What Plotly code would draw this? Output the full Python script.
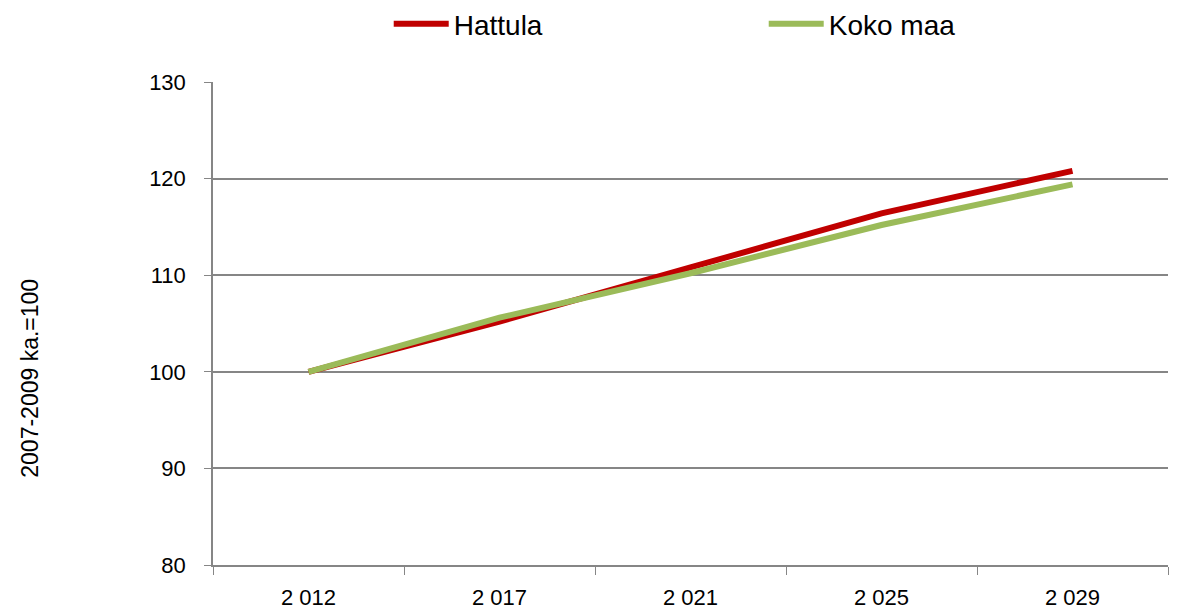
import plotly.graph_objects as go

years = ["2 012", "2 017", "2 021", "2 025", "2 029"]
hattula = [100.0, 105.2, 110.8, 116.4, 120.8]
koko_maa = [100.0, 105.6, 110.2, 115.2, 119.4]

FONT = "Liberation Sans, Arial, sans-serif"

fig = go.Figure()
fig.add_trace(go.Scatter(x=years, y=hattula, mode="lines", name="Hattula",
                         line=dict(color="#C00000", width=6)))
fig.add_trace(go.Scatter(x=years, y=koko_maa, mode="lines", name="Koko maa",
                         line=dict(color="#9BBB59", width=6)))

fig.update_layout(
    width=1170, height=605,
    margin=dict(l=205, r=10, t=74, b=48, autoexpand=False),
    paper_bgcolor="white", plot_bgcolor="white",
    font=dict(family=FONT, size=22, color="black"),
    showlegend=True,
    legend=dict(orientation="h", x=0.184, xanchor="left", y=1.12, yanchor="middle",
                font=dict(family=FONT, size=28, color="black"),
                entrywidth=305, itemwidth=55),
)
fig.update_xaxes(type="category", tickson="boundaries", ticks="outside", ticklen=8,
                 tickcolor="#868686", showline=True, linecolor="#868686", linewidth=1.5,
                 showgrid=False, range=[-0.5, 4.5], ticklabelstandoff=12, automargin=False,
                 tickfont=dict(family=FONT, size=22, color="black"))
fig.update_yaxes(range=[80, 130], dtick=10, ticks="outside", ticklen=7,
                 tickcolor="#868686", showline=True, linecolor="#868686", linewidth=1.5,
                 showgrid=True, gridcolor="#868686", gridwidth=1.5, zeroline=False,
                 ticklabelstandoff=14, automargin=False,
                 tickfont=dict(family=FONT, size=22, color="black"))
fig.add_annotation(text="2007-2009 ka.=100", xref="paper", yref="paper",
                   x=-0.192, y=0.387, textangle=-90, showarrow=False,
                   xanchor="center", yanchor="middle",
                   font=dict(family=FONT, size=23, color="black"))

fig.write_html("out.html")
